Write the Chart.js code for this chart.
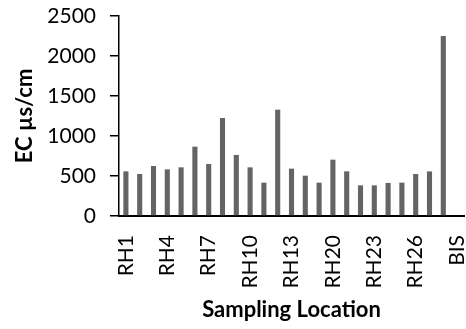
<!DOCTYPE html>
<html lang="en">
<head>
    <meta charset="utf-8">
    <title>EC by Sampling Location</title>
    <script src="https://cdn.jsdelivr.net/npm/chart.js"></script>
    <style>
        body { margin: 0; background: #fff; }
    </style>
</head>
<body>
    <canvas id="ecchart" width="466" height="329"></canvas>
    <script>
        const locations = ['RH1', 'RH2', 'RH3', 'RH4', 'RH5', 'RH6', 'RH7', 'RH8', 'RH9', 'RH10',
            'RH11', 'RH12', 'RH13', 'RH18', 'RH19', 'RH20', 'RH21', 'RH22', 'RH23', 'RH24',
            'RH25', 'RH26', 'RH27', 'RH28', 'BIS'];
        const ecValues = [558, 525, 625, 583, 608, 867, 650, 1225, 763, 608,
            417, 1329, 592, 504, 417, 704, 558, 383, 383, 413,
            417, 525, 558, 2250, null];
        const yTicks = [0, 500, 1000, 1500, 2000, 2500];

        const font = { family: 'Lato', size: 21 };

        const config = {
            type: 'bar',
            data: {
                labels: locations,
                datasets: [{
                    label: 'EC',
                    data: ecValues,
                    backgroundColor: '#646464',
                    categoryPercentage: 1,
                    barPercentage: 0.37
                }]
            },
            options: {
                responsive: false,
                animation: false,
                layout: { padding: { top: 16, right: 2, left: 0, bottom: 0 } },
                plugins: {
                    legend: { display: false },
                    tooltip: { enabled: false }
                },
                scales: {
                    x: {
                        grid: { display: false, drawTicks: false },
                        border: { color: '#000', width: 2 },
                        ticks: {
                            color: '#000',
                            font: font,
                            autoSkip: false,
                            minRotation: 90,
                            maxRotation: 90,
                            padding: 19,
                            callback: function (v, i) {
                                return i % 3 === 0 ? locations[i] : '';
                            }
                        },
                        title: {
                            display: true,
                            text: 'Sampling Location',
                            color: '#000',
                            font: { family: 'Lato', size: 22, weight: 'bold' },
                            padding: { top: 2, bottom: 6 }
                        },
                        afterFit: function (scale) {
                            scale.height = 113;
                            scale.paddingLeft = 0;
                            scale.paddingRight = 0;
                        }
                    },
                    y: {
                        min: 0,
                        max: 2500,
                        afterBuildTicks: function (scale) {
                            scale.ticks = yTicks.map(v => ({ value: v }));
                        },
                        grid: {
                            display: true,
                            drawOnChartArea: false,
                            drawTicks: true,
                            tickLength: 9,
                            color: '#000',
                            lineWidth: 1.5
                        },
                        border: { color: '#000', width: 1.5 },
                        ticks: {
                            color: '#000',
                            font: font,
                            padding: 14,
                            callback: function (v) { return String(v); }
                        },
                        title: {
                            display: true,
                            text: 'EC µs/cm',
                            color: '#000',
                            font: { family: 'Lato', size: 22, weight: 'bold' },
                            padding: { top: 12, bottom: 0 }
                        },
                        afterFit: function (scale) {
                            scale.width = 119;
                            scale.paddingTop = 0;
                            scale.paddingBottom = 0;
                        }
                    }
                }
            }
        };

        const ecChart = new Chart(document.getElementById('ecchart'), config);
    </script>
</body>
</html>
